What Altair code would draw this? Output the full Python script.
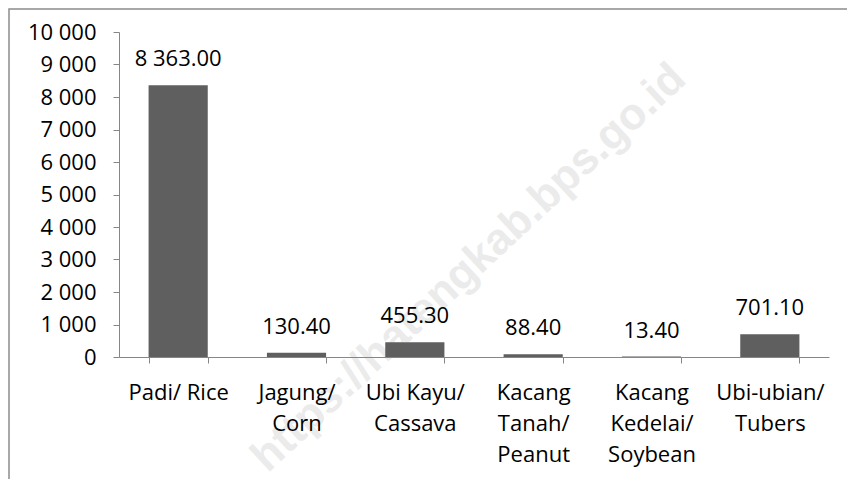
import altair as alt
import pandas as pd

categories = ["Padi/ Rice", "Jagung/|Corn", "Ubi Kayu/|Cassava",
              "Kacang|Tanah/|Peanut", "Kacang|Kedelai/|Soybean", "Ubi-ubian/|Tubers"]
values = [8363.00, 130.40, 455.30, 88.40, 13.40, 701.10]
value_labels = ["8 363.00", "130.40", "455.30", "88.40", "13.40", "701.10"]
y_ticks = list(range(0, 10001, 1000))
watermark = "https://hatengkab.bps.go.id"

df = pd.DataFrame({"cat": categories, "val": values, "lbl": value_labels})
wm = pd.DataFrame({"t": [watermark]})

FONT = "Open Sans"
FS = 22
AX = "#868686"

x_enc = alt.X("cat:N", sort=None, title=None,
              scale=alt.Scale(paddingInner=0.5, paddingOuter=0.25),
              axis=alt.Axis(labelAngle=0,
                            labelExpr="isValid(datum.value) ? split(datum.value, '|') : ''",
                            labelLineHeight=31, labelPadding=19, tickSize=6,
                            tickBand="extent", domainColor=AX, tickColor=AX,
                            labelColor="#000000", labelFont=FONT, labelFontSize=FS,
                            labelBaseline="top", labelOverlap=False, zindex=1))
y_enc = alt.Y("val:Q", title=None,
              scale=alt.Scale(domain=[0, 10000], nice=False),
              axis=alt.Axis(values=y_ticks, grid=False, tickSize=6, labelPadding=17,
                            domainColor=AX, tickColor=AX, labelColor="#000000",
                            labelFont=FONT, labelFontSize=FS, labelOverlap=False,
                            labelExpr="replace(format(datum.value, ','), /,/g, ' ')",
                            zindex=1))

border = alt.Chart(wm).mark_rect(fillOpacity=0, stroke="#8c8c8c", strokeWidth=1.5).encode(
    x=alt.value(-110), x2=alt.value(900), y=alt.value(-23), y2=alt.value(700))

mark_wm = alt.Chart(wm).mark_text(font="Liberation Sans", fontWeight="bold", fontSize=44,
                                  color="#ebebeb", angle=317, align="center",
                                  baseline="middle").encode(
    x=alt.value(350), y=alt.value(236), text="t:N")

bars = alt.Chart(df).mark_bar(color="#5f5f5f").encode(x=x_enc, y=y_enc)
labels = alt.Chart(df).mark_text(font=FONT, fontSize=FS, color="#000000",
                                 baseline="middle", dy=-26).encode(
    x=x_enc, y=y_enc, text="lbl:N")

chart = alt.layer(border, mark_wm, bars, labels).properties(
    width=710, height=325,
    autosize=alt.AutoSizeParams(type="none"),
    padding={"left": 111, "top": 24, "right": 18, "bottom": 122},
    background="#ffffff",
).configure_view(stroke=None)

chart.save("out.html", embed_options={"renderer": "svg", "actions": False})
